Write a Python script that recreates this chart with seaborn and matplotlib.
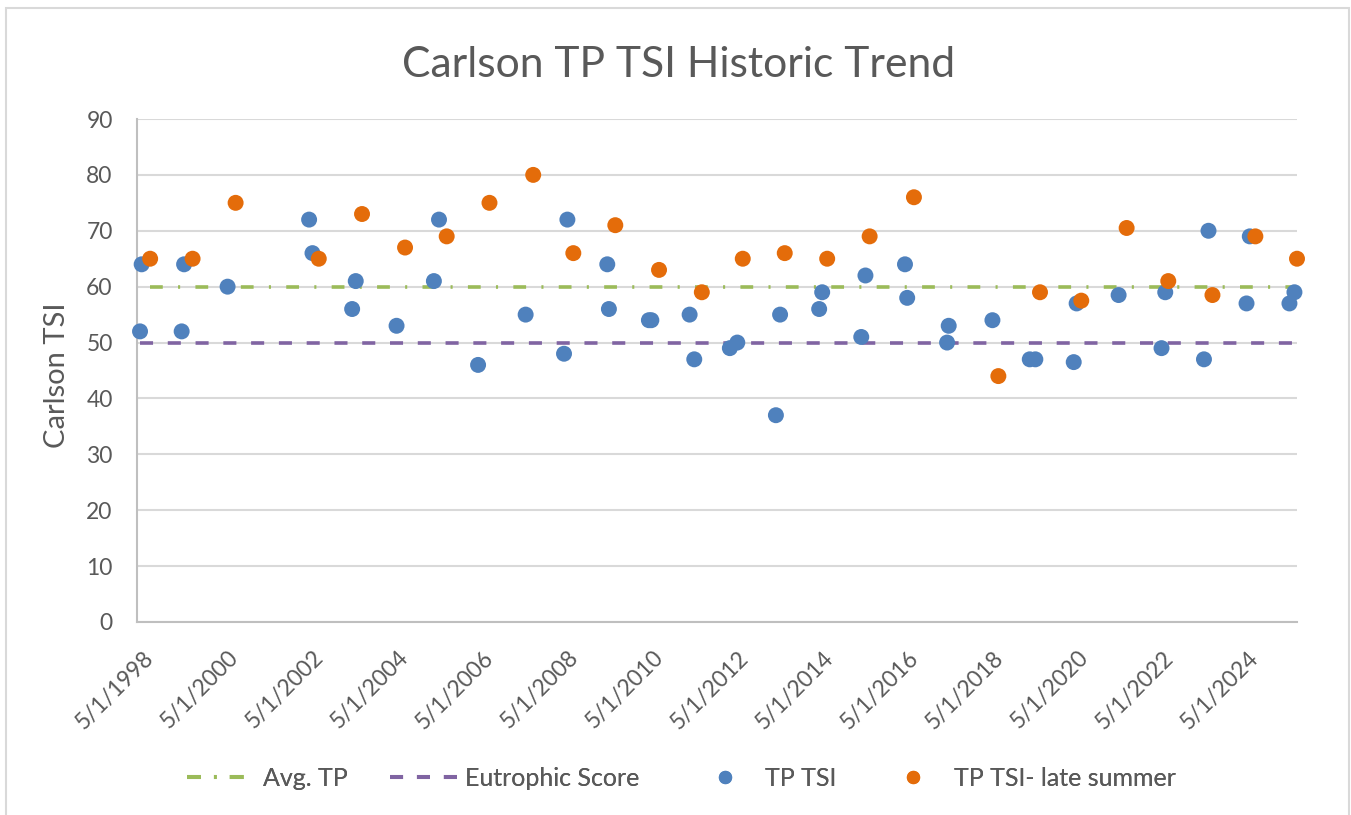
import matplotlib
matplotlib.use("Agg")
import matplotlib.pyplot as plt
import matplotlib.dates as mdates
import matplotlib.transforms as mtransforms
from matplotlib.lines import Line2D
from matplotlib.patches import Rectangle
import seaborn as sns
import pandas as pd
import numpy as np

# ---------------- data ----------------
tp_dates = ["1998-05-27", "1998-06-10", "1999-05-20", "1999-06-10", "2000-06-18",
            "2002-05-20", "2002-06-18", "2003-05-25", "2003-06-25", "2004-06-10",
            "2005-04-27", "2005-06-10", "2006-05-12", "2007-06-25", "2008-05-20",
            "2008-06-18", "2009-05-27", "2009-06-10", "2010-05-20", "2010-06-10",
            "2011-05-05", "2011-06-14", "2012-04-15", "2012-06-18", "2013-05-16",
            "2013-06-21", "2014-05-23", "2014-06-18", "2015-05-20", "2015-06-25",
            "2016-05-30", "2016-06-18", "2017-05-27", "2017-06-10", "2018-06-21",
            "2019-05-08", "2019-06-25", "2020-05-20", "2020-06-14", "2021-06-10",
            "2022-06-14", "2022-07-16", "2023-06-14", "2023-07-23", "2024-06-14",
            "2024-07-12", "2025-06-18", "2025-07-31"]
tp_tsi = [52, 64, 52, 64, 60,
          72, 66, 56, 61, 53,
          61, 72, 46, 55, 48,
          72, 64, 56, 54, 54,
          55, 47, 49, 50, 37,
          55, 56, 59, 51, 62,
          64, 58, 50, 53, 54,
          47, 47, 46.5, 57, 58.5,
          49, 59, 47, 70, 57,
          69, 57, 59]

late_dates = ["1998-08-22", "1999-08-22", "2000-08-26", "2002-08-11", "2003-08-18",
              "2004-08-22", "2005-08-15", "2006-08-18", "2007-08-29", "2008-08-08",
              "2009-08-04", "2010-08-15", "2011-08-18", "2012-08-04", "2013-07-31",
              "2014-07-31", "2015-07-31", "2016-08-15", "2018-08-11", "2019-08-04",
              "2020-07-24", "2021-08-18", "2022-08-11", "2023-08-26", "2024-08-29",
              "2025-08-22"]
late_tsi = [65, 65, 75, 65, 73,
            67, 69, 75, 80, 66,
            71, 63, 59, 65, 66,
            65, 69, 76, 44, 59,
            57.5, 70.5, 61, 58.5, 69,
            65]

avg_tp = 60
eutrophic_score = 50

series_names = ["Avg. TP", "Eutrophic Score", "TP TSI", "TP TSI- late summer"]
title = "Carlson TP TSI Historic Trend"
y_label = "Carlson TSI"

# ---------------- style ----------------
sns.set_theme(style="white")
plt.rcParams['font.family'] = ['Lato', 'DejaVu Sans']
plt.rcParams['lines.scale_dashes'] = False

text_col = "#595959"
axis_col = "#BFBFBF"
grid_col = "#D9D9D9"
blue = "#4F81BD"
orange = "#E46C0A"
green = "#9BBB59"
purple = "#8064A2"

df = pd.concat([
    pd.DataFrame({"date": pd.to_datetime(tp_dates), "tsi": tp_tsi, "series": series_names[2]}),
    pd.DataFrame({"date": pd.to_datetime(late_dates), "tsi": late_tsi, "series": series_names[3]}),
], ignore_index=True)

W, H = 1351, 815
fig = plt.figure(figsize=(W / 100, H / 100), dpi=100)
ax = fig.add_axes([137 / W, 1 - 622 / H, (1297 - 137) / W, (622 - 119) / H])

green_dash = (9.2, 11.0, 1.5, 11.0)
purple_dash = (9.4, 10.6)

# reference lines
d_tp = pd.to_datetime(tp_dates)
d_late = pd.to_datetime(late_dates)
ax.plot([d_late.min(), d_late.max()], [avg_tp, avg_tp], color=green, lw=2.6,
        dashes=green_dash, dash_capstyle='butt', zorder=2)
ax.plot([d_tp.min(), d_tp.max()], [eutrophic_score, eutrophic_score], color=purple, lw=2.6,
        dashes=purple_dash, dash_capstyle='butt', zorder=2)

sns.scatterplot(data=df, x="date", y="tsi", hue="series",
                palette={series_names[2]: blue, series_names[3]: orange},
                s=132, linewidth=0, ax=ax, legend=False, zorder=3, clip_on=False)

# axes limits / ticks
ax.set_xlim(pd.Timestamp("1998-05-01"), d_late.max())
ax.set_ylim(0, 90)
ax.set_yticks(np.arange(0, 91, 10))
ax.set_yticks(np.arange(0, 91, 5), minor=True)
ax.xaxis.set_major_locator(mdates.YearLocator(base=2, month=5, day=1))
ax.xaxis.set_minor_locator(mdates.YearLocator(base=1, month=5, day=1))
ax.xaxis.set_major_formatter(mdates.DateFormatter("%-m/%-d/%Y"))

ax.grid(axis='y', which='major', color=grid_col, lw=1.5, zorder=0)
ax.set_axisbelow(True)
for s in ["top", "right"]:
    ax.spines[s].set_visible(False)
for s in ["left", "bottom"]:
    ax.spines[s].set_color(axis_col)
    ax.spines[s].set_linewidth(1.5)

ax.tick_params(axis='x', which='major', direction='in', length=7, width=1.3, color=axis_col,
               labelsize=16.5, labelcolor=text_col, pad=18)
ax.tick_params(axis='x', which='minor', direction='in', length=5, width=1.3, color=axis_col)
ax.tick_params(axis='y', which='both', direction='in', length=6, width=1.3, color=axis_col,
               labelsize=16.5, labelcolor=text_col, pad=17.5)

ax.set_xlabel("")
ax.set_ylabel(y_label, fontsize=21, color=text_col)
ax.yaxis.set_label_coords((70 - 137) / 1160, (622 - 375) / 503)

fig.text(0.502, 1 - 65 / H, title, ha='center', va='center', fontsize=30.7, color=text_col)

# legend: one entry each, placed like the reference
leg_specs = [
    (Line2D([0], [0], color=green, lw=2.9, dashes=(10, 9.4, 2, 9.4), dash_capstyle='butt'),
     series_names[0], 187, 2.32, 0.72),
    (Line2D([0], [0], color=purple, lw=2.9, dashes=(9.4, 10.0), dash_capstyle='butt'),
     series_names[1], 390, 2.76, 0.24),
    (Line2D([0], [0], color=blue, lw=0, marker='o', markersize=9.6, markeredgewidth=0),
     series_names[2], 712.5, 1.0, 1.1),
    (Line2D([0], [0], color=orange, lw=0, marker='o', markersize=9.6, markeredgewidth=0),
     series_names[3], 900.5, 1.0, 1.14),
]
for h, lab, x0, hl, tp in leg_specs:
    lg = fig.legend([h], [lab], loc='center left', bbox_to_anchor=(x0 / W, 1 - 778 / H),
                    frameon=False, fontsize=18, labelcolor=text_col, handlelength=hl,
                    handletextpad=tp, borderpad=0, borderaxespad=0)
    fig.add_artist(lg)

# chart border
fig.add_artist(Rectangle((6 / W, -0.02), (1349 - 6) / W, 1 - 8 / H + 0.02,
                         transform=fig.transFigure, fill=False, edgecolor=grid_col, lw=1.5))

fig.canvas.draw()
offset = mtransforms.ScaledTranslation(6 / 100, 0, fig.dpi_scale_trans)
for tick in ax.xaxis.get_major_ticks():
    lab = tick.label1
    lab.set_rotation(45)
    lab.set_ha('right')
    lab.set_va('top')
    lab.set_rotation_mode('anchor')
    lab.set_transform(lab.get_transform() + offset)

fig.savefig("out.png", dpi=100, facecolor="white")
